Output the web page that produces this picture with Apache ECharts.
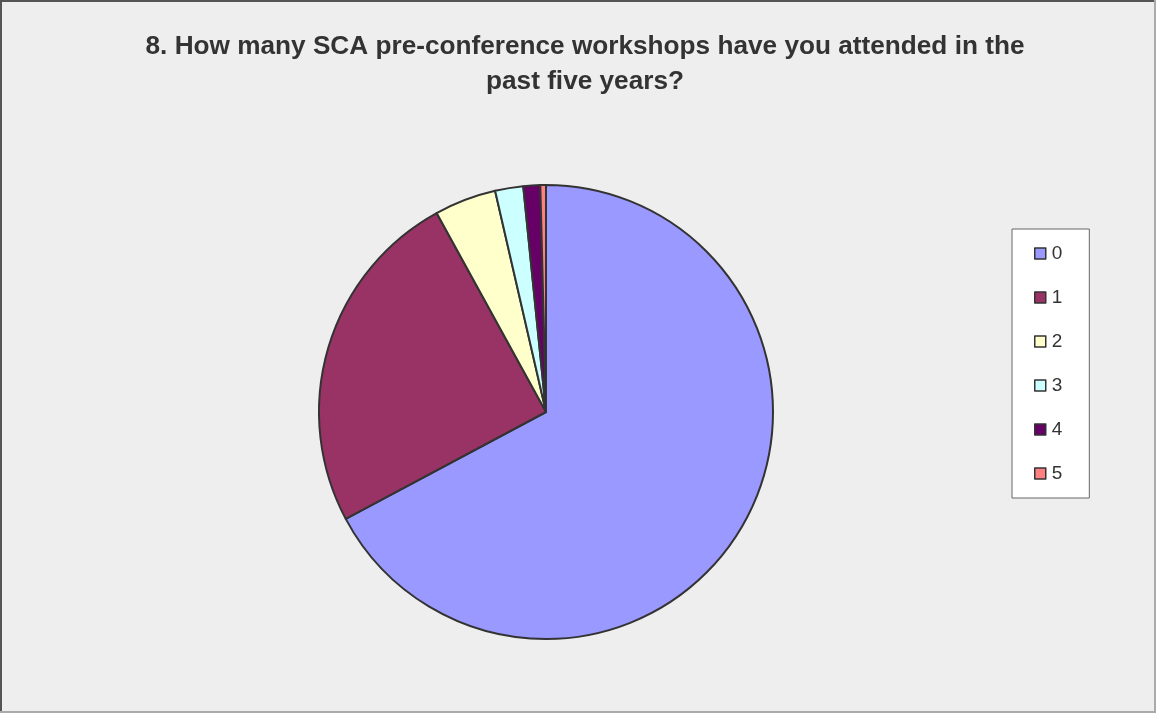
<!DOCTYPE html>
<html>
<head>
<meta charset="utf-8">
<script src="https://cdn.jsdelivr.net/npm/echarts@6/dist/echarts.min.js"></script>
<style>
  html, body { margin: 0; padding: 0; background: #eeeeee; }
  #chart { width: 1156px; height: 713px; }
</style>
</head>
<body>
<div id="chart"></div>
<script>
// Number of SCA pre-conference workshops attended (responses per answer)
const categories = ['0', '1', '2', '3', '4', '5'];
const responses = [168, 62, 11, 5, 3, 1];
const sliceColors = ['#9999ff', '#993366', '#ffffcc', '#ccffff', '#660066', '#ff8080'];
const titleText = '8. How many SCA pre-conference workshops have you attended in the\npast five years?';

const chart = echarts.init(document.getElementById('chart'));

chart.setOption({
  backgroundColor: '#eeeeee',
  animation: false,
  title: {
    text: titleText,
    left: 580,
    textAlign: 'center',
    top: 24,
    textStyle: {
      fontFamily: 'Liberation Sans',
      fontSize: 26.2,
      fontWeight: 'bold',
      color: '#333333',
      lineHeight: 35
    }
  },
  legend: {
    orient: 'vertical',
    left: 1012,
    top: 229,
    data: categories,
    itemWidth: 11,
    itemHeight: 11,
    itemGap: 25,
    padding: [15, 27, 15, 22],
    backgroundColor: '#ffffff',
    borderColor: '#666666',
    borderWidth: 1,
    icon: 'rect',
    itemStyle: { borderColor: '#333333', borderWidth: 1.5 },
    textStyle: { fontFamily: 'Liberation Sans', fontSize: 19, color: '#333333', padding: [0, 0, 0, 1] }
  },
  graphic: [
    { type: 'line', shape: { x1: 1, y1: 0, x2: 1, y2: 713 }, style: { stroke: '#555555', lineWidth: 2 } },
    { type: 'line', shape: { x1: 0, y1: 1, x2: 1156, y2: 1 }, style: { stroke: '#555555', lineWidth: 2 } },
    { type: 'line', shape: { x1: 1155, y1: 0, x2: 1155, y2: 713 }, style: { stroke: '#aaaaaa', lineWidth: 2 } },
    { type: 'line', shape: { x1: 0, y1: 712, x2: 1156, y2: 712 }, style: { stroke: '#aaaaaa', lineWidth: 2 } }
  ],
  series: [{
    type: 'pie',
    center: [546, 412],
    radius: 227,
    startAngle: 90,
    clockwise: true,
    label: { show: false },
    labelLine: { show: false },
    emphasis: { disabled: true },
    itemStyle: { borderColor: '#333333', borderWidth: 2 },
    data: categories.map((c, i) => ({
      name: c,
      value: responses[i],
      itemStyle: { color: sliceColors[i] }
    }))
  }]
});
</script>
</body>
</html>
